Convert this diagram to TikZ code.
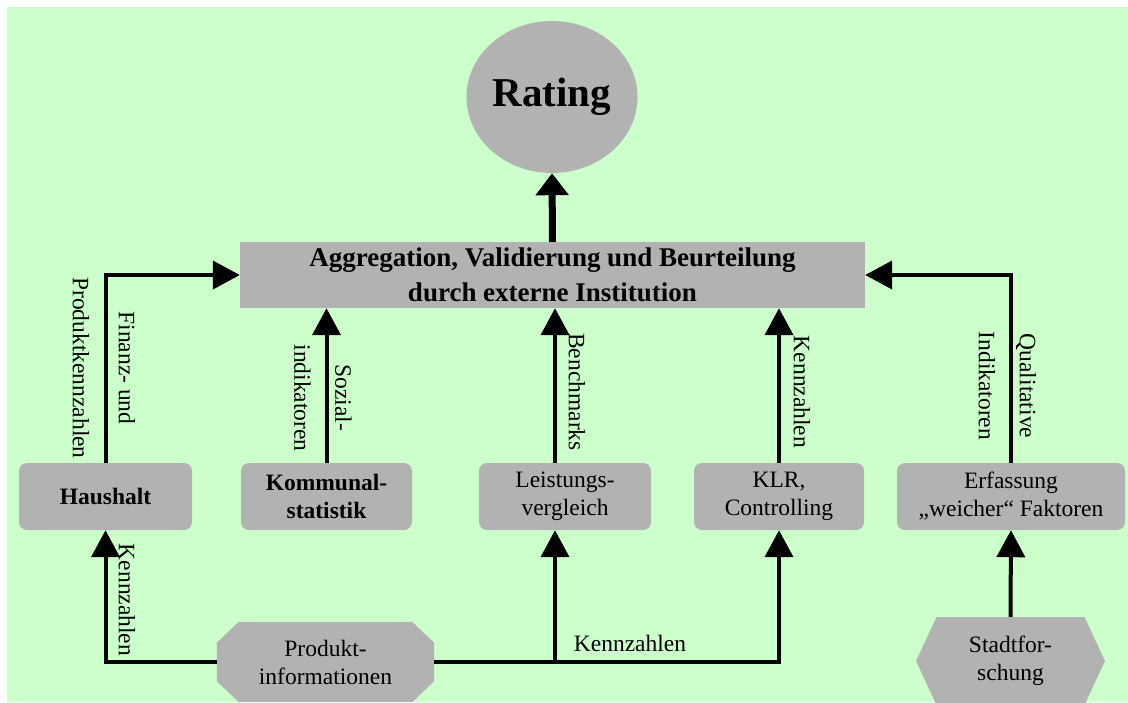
\documentclass[tikz,border=0pt]{standalone}
\usepackage{fontspec}
\setmainfont{Liberation Serif}
\usetikzlibrary{shapes.geometric,shapes.misc,shapes.symbols,arrows.meta,calc}
\definecolor{bggreen}{RGB}{204,255,204}
\definecolor{boxgrey}{RGB}{178,178,178}
\pgfdeclarelayer{background}
\pgfsetlayers{background,main}
\begin{document}
\begin{tikzpicture}[x=1pt,y=-1pt,
  txt/.style={font=\fontsize{23.5}{28}\selectfont},
  boldtxt/.style={font=\fontsize{23.5}{28}\selectfont\bfseries},
  box/.style={fill=boxgrey, rounded corners=8pt, minimum width=#1, minimum height=67pt, inner sep=0pt, align=center},
  conn/.style={line width=4pt, -{Triangle[length=27pt,width=28pt]}},
  vlabel/.style={rotate=-90, inner sep=0pt, align=center, font=\fontsize{23.5}{#1}\selectfont},
]
\useasboundingbox (0,0) rectangle (1128,702);
\begin{pgfonlayer}{background}
\fill[white] (0,0) rectangle (1128,702);
\fill[bggreen] (7,7) rectangle (1128,702);
\end{pgfonlayer}

% nodes
\node[ellipse, fill=boxgrey, minimum width=171pt, minimum height=152pt, inner sep=0pt,
      font=\fontsize{41}{46}\selectfont\bfseries] (rating) at (552,97) {Rating};
\node[fill=boxgrey, minimum width=625pt, minimum height=66pt, inner sep=0pt, align=center,
      font=\fontsize{27}{35}\selectfont\bfseries] (agg) at (552.5,275)
      {Aggregation, Validierung und Beurteilung\\durch externe Institution};
\node[box=173pt, boldtxt] (haus)  at (105.5,496.5) {Haushalt};
\node[box=171pt, boldtxt] (komm)  at (326.5,496.5) {Kommunal-\\statistik};
\node[box=172pt, txt]     (leist) at (565,496.5)   {Leistungs-\\vergleich};
\node[box=170pt, txt]     (klr)   at (779,496.5)   {KLR,\\Controlling};
\node[box=228pt, txt]     (erf)   at (1011,496.5)  {Erfassung\\„weicher“ Faktoren};
\node[minimum width=217pt, minimum height=80pt, inner sep=0pt, align=center, txt]
      (prod) at (325.5,662) {Produkt-\\informationen};
\begin{pgfonlayer}{background}
\fill[boxgrey] ([xshift=22pt]prod.north west) -- ([xshift=-22pt]prod.north east)
  -- ([yshift=-21pt]prod.north east) -- ([yshift=21pt]prod.south east)
  -- ([xshift=-22pt]prod.south east) -- ([xshift=22pt]prod.south west)
  -- ([yshift=21pt]prod.south west) -- ([yshift=-21pt]prod.north west) -- cycle;
\end{pgfonlayer}
\node[signal, signal to=west and east, signal pointer angle=130, fill=boxgrey,
      minimum width=189pt, minimum height=88pt, inner sep=0pt, align=center, txt]
      (stadt) at (1010.5,661) {Stadtfor-\\schung};

% connectors
\draw[line width=7pt, -{Triangle[length=22pt,width=32pt]}] (agg.north) -- (rating.south);
\draw[conn] (haus.north) |- (agg.west);
\draw[conn] (komm.north) -- (komm.north |- agg.south);
\draw[conn] ([xshift=-10pt]leist.north) -- ([xshift=-10pt]leist.north |- agg.south);
\draw[conn] (klr.north) -- (klr.north |- agg.south);
\draw[conn] (erf.north) |- (agg.east);
\draw[conn] (prod.west) -| (haus.south);
\draw[conn] (prod.east) -| ([xshift=-10pt]leist.south);
\draw[conn] (prod.east) -| (klr.south);
\draw[conn] (stadt.north) -- (erf.south);

% labels
\node[vlabel=46] at (104,368) {Finanz- und\\Produktkennzahlen};
\node[vlabel=41] at (323,398) {Sozial-\\indikatoren};
\node[vlabel=28] at (577,392) {Benchmarks};
\node[vlabel=28] at (802,392) {Kennzahlen};
\node[vlabel=41] at (1007.5,386) {Qualitative\\Indikatoren};
\node[vlabel=28] at (127,600) {Kennzahlen};
\node[txt, inner sep=0pt] at (630,643) {Kennzahlen};
\end{tikzpicture}
\end{document}
